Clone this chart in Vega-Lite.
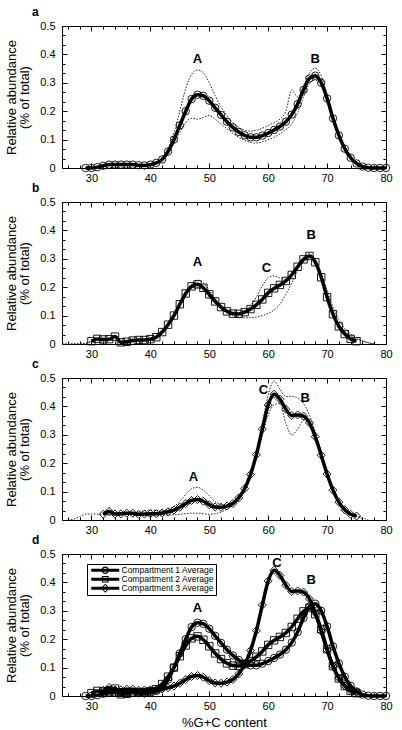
{
"$schema": "https://vega.github.io/schema/vega-lite/v6.json",
"background": "white",
"padding": {"left": 5, "top": 5, "right": 5, "bottom": 5},
"config": {
  "font": "Liberation Sans",
  "view": {"stroke": "black", "strokeWidth": 1},
  "axis": {"grid": false, "domain": false, "tickColor": "black", "labelColor": "black", "labelFontSize": 11, "titleFontSize": 13, "titleFontWeight": "normal", "titleColor": "black", "labelFont": "Liberation Sans", "titleFont": "Liberation Sans"}
},
"resolve": {"scale": {"shape": "independent"}, "legend": {"shape": "independent"}},
"datasets": {
"d": [
{"s":"1","x":29,"y":0},{"s":"1","x":30,"y":0},{"s":"1","x":31,"y":0.003},{"s":"1","x":32,"y":0.008},{"s":"1","x":33,"y":0.012},{"s":"1","x":34,"y":0.012},{"s":"1","x":35,"y":0.012},{"s":"1","x":36,"y":0.012},{"s":"1","x":37,"y":0.012},{"s":"1","x":38,"y":0.01},{"s":"1","x":39,"y":0.009},{"s":"1","x":40,"y":0.012},{"s":"1","x":41,"y":0.018},{"s":"1","x":42,"y":0.03},{"s":"1","x":43,"y":0.058},{"s":"1","x":44,"y":0.1},{"s":"1","x":45,"y":0.15},{"s":"1","x":46,"y":0.2},{"s":"1","x":47,"y":0.243},{"s":"1","x":48,"y":0.258},{"s":"1","x":49,"y":0.254},{"s":"1","x":50,"y":0.237},{"s":"1","x":51,"y":0.212},{"s":"1","x":52,"y":0.187},{"s":"1","x":53,"y":0.163},{"s":"1","x":54,"y":0.143},{"s":"1","x":55,"y":0.127},{"s":"1","x":56,"y":0.115},{"s":"1","x":57,"y":0.108},{"s":"1","x":58,"y":0.108},{"s":"1","x":59,"y":0.114},{"s":"1","x":60,"y":0.123},{"s":"1","x":61,"y":0.134},{"s":"1","x":62,"y":0.146},{"s":"1","x":63,"y":0.163},{"s":"1","x":64,"y":0.188},{"s":"1","x":65,"y":0.225},{"s":"1","x":66,"y":0.275},{"s":"1","x":67,"y":0.315},{"s":"1","x":68,"y":0.325},{"s":"1","x":69,"y":0.3},{"s":"1","x":70,"y":0.245},{"s":"1","x":71,"y":0.175},{"s":"1","x":72,"y":0.115},{"s":"1","x":73,"y":0.068},{"s":"1","x":74,"y":0.036},{"s":"1","x":75,"y":0.016},{"s":"1","x":76,"y":0.005},{"s":"1","x":77,"y":0.001},{"s":"1","x":78,"y":0},{"s":"1","x":79,"y":0},{"s":"1","x":80,"y":0},
{"s":"1a","x":29,"y":0},{"s":"1a","x":31,"y":0.003},{"s":"1a","x":33,"y":0.012},{"s":"1a","x":35,"y":0.013},{"s":"1a","x":37,"y":0.013},{"s":"1a","x":39,"y":0.01},{"s":"1a","x":41,"y":0.02},{"s":"1a","x":42,"y":0.035},{"s":"1a","x":43,"y":0.07},{"s":"1a","x":44,"y":0.125},{"s":"1a","x":45,"y":0.2},{"s":"1a","x":46,"y":0.28},{"s":"1a","x":47,"y":0.33},{"s":"1a","x":48,"y":0.345},{"s":"1a","x":49,"y":0.335},{"s":"1a","x":50,"y":0.3},{"s":"1a","x":51,"y":0.255},{"s":"1a","x":52,"y":0.215},{"s":"1a","x":53,"y":0.185},{"s":"1a","x":54,"y":0.16},{"s":"1a","x":55,"y":0.143},{"s":"1a","x":56,"y":0.133},{"s":"1a","x":57,"y":0.13},{"s":"1a","x":58,"y":0.133},{"s":"1a","x":59,"y":0.14},{"s":"1a","x":60,"y":0.15},{"s":"1a","x":61,"y":0.16},{"s":"1a","x":62,"y":0.172},{"s":"1a","x":63,"y":0.2},{"s":"1a","x":64,"y":0.275},{"s":"1a","x":65,"y":0.25},{"s":"1a","x":66,"y":0.29},{"s":"1a","x":67,"y":0.335},{"s":"1a","x":68,"y":0.352},{"s":"1a","x":69,"y":0.325},{"s":"1a","x":70,"y":0.26},{"s":"1a","x":71,"y":0.185},{"s":"1a","x":72,"y":0.12},{"s":"1a","x":73,"y":0.07},{"s":"1a","x":74,"y":0.037},{"s":"1a","x":75,"y":0.016},{"s":"1a","x":76,"y":0.005},{"s":"1a","x":78,"y":0},{"s":"1a","x":80,"y":0},
{"s":"1b","x":29,"y":0},{"s":"1b","x":31,"y":0.002},{"s":"1b","x":33,"y":0.01},{"s":"1b","x":35,"y":0.011},{"s":"1b","x":37,"y":0.011},{"s":"1b","x":39,"y":0.008},{"s":"1b","x":41,"y":0.016},{"s":"1b","x":42,"y":0.026},{"s":"1b","x":43,"y":0.05},{"s":"1b","x":44,"y":0.085},{"s":"1b","x":45,"y":0.125},{"s":"1b","x":46,"y":0.16},{"s":"1b","x":47,"y":0.175},{"s":"1b","x":48,"y":0.172},{"s":"1b","x":49,"y":0.178},{"s":"1b","x":50,"y":0.185},{"s":"1b","x":51,"y":0.172},{"s":"1b","x":52,"y":0.155},{"s":"1b","x":53,"y":0.138},{"s":"1b","x":54,"y":0.122},{"s":"1b","x":55,"y":0.108},{"s":"1b","x":56,"y":0.098},{"s":"1b","x":57,"y":0.09},{"s":"1b","x":58,"y":0.088},{"s":"1b","x":59,"y":0.092},{"s":"1b","x":60,"y":0.1},{"s":"1b","x":61,"y":0.108},{"s":"1b","x":62,"y":0.12},{"s":"1b","x":63,"y":0.135},{"s":"1b","x":64,"y":0.155},{"s":"1b","x":65,"y":0.195},{"s":"1b","x":66,"y":0.25},{"s":"1b","x":67,"y":0.298},{"s":"1b","x":68,"y":0.31},{"s":"1b","x":69,"y":0.29},{"s":"1b","x":70,"y":0.24},{"s":"1b","x":71,"y":0.17},{"s":"1b","x":72,"y":0.11},{"s":"1b","x":73,"y":0.065},{"s":"1b","x":74,"y":0.034},{"s":"1b","x":75,"y":0.015},{"s":"1b","x":76,"y":0.005},{"s":"1b","x":78,"y":0},{"s":"1b","x":80,"y":0},
{"s":"2","x":30,"y":0.01},{"s":"2","x":31,"y":0.018},{"s":"2","x":32,"y":0.016},{"s":"2","x":33,"y":0.017},{"s":"2","x":34,"y":0.026},{"s":"2","x":35,"y":0.006},{"s":"2","x":36,"y":0.008},{"s":"2","x":37,"y":0.012},{"s":"2","x":38,"y":0.014},{"s":"2","x":39,"y":0.014},{"s":"2","x":40,"y":0.017},{"s":"2","x":41,"y":0.024},{"s":"2","x":42,"y":0.042},{"s":"2","x":43,"y":0.068},{"s":"2","x":44,"y":0.1},{"s":"2","x":45,"y":0.14},{"s":"2","x":46,"y":0.178},{"s":"2","x":47,"y":0.203},{"s":"2","x":48,"y":0.21},{"s":"2","x":49,"y":0.198},{"s":"2","x":50,"y":0.175},{"s":"2","x":51,"y":0.15},{"s":"2","x":52,"y":0.13},{"s":"2","x":53,"y":0.115},{"s":"2","x":54,"y":0.107},{"s":"2","x":55,"y":0.106},{"s":"2","x":56,"y":0.112},{"s":"2","x":57,"y":0.123},{"s":"2","x":58,"y":0.138},{"s":"2","x":59,"y":0.157},{"s":"2","x":60,"y":0.18},{"s":"2","x":61,"y":0.196},{"s":"2","x":62,"y":0.208},{"s":"2","x":63,"y":0.222},{"s":"2","x":64,"y":0.243},{"s":"2","x":65,"y":0.272},{"s":"2","x":66,"y":0.298},{"s":"2","x":67,"y":0.31},{"s":"2","x":68,"y":0.288},{"s":"2","x":69,"y":0.235},{"s":"2","x":70,"y":0.165},{"s":"2","x":71,"y":0.105},{"s":"2","x":72,"y":0.062},{"s":"2","x":73,"y":0.035},{"s":"2","x":74,"y":0.018},{"s":"2","x":75,"y":0.01},
{"s":"2a","x":25,"y":0},{"s":"2a","x":27,"y":0},{"s":"2a","x":29,"y":0.003},{"s":"2a","x":30,"y":0.01},{"s":"2a","x":31,"y":0.018},{"s":"2a","x":33,"y":0.017},{"s":"2a","x":34,"y":0.028},{"s":"2a","x":35,"y":0.007},{"s":"2a","x":37,"y":0.012},{"s":"2a","x":39,"y":0.014},{"s":"2a","x":41,"y":0.024},{"s":"2a","x":42,"y":0.04},{"s":"2a","x":43,"y":0.065},{"s":"2a","x":44,"y":0.095},{"s":"2a","x":45,"y":0.135},{"s":"2a","x":46,"y":0.175},{"s":"2a","x":47,"y":0.21},{"s":"2a","x":48,"y":0.225},{"s":"2a","x":49,"y":0.215},{"s":"2a","x":50,"y":0.19},{"s":"2a","x":51,"y":0.16},{"s":"2a","x":52,"y":0.135},{"s":"2a","x":53,"y":0.118},{"s":"2a","x":54,"y":0.108},{"s":"2a","x":55,"y":0.106},{"s":"2a","x":56,"y":0.115},{"s":"2a","x":57,"y":0.135},{"s":"2a","x":58,"y":0.165},{"s":"2a","x":59,"y":0.205},{"s":"2a","x":60,"y":0.233},{"s":"2a","x":61,"y":0.24},{"s":"2a","x":62,"y":0.232},{"s":"2a","x":63,"y":0.225},{"s":"2a","x":64,"y":0.24},{"s":"2a","x":65,"y":0.268},{"s":"2a","x":66,"y":0.29},{"s":"2a","x":67,"y":0.3},{"s":"2a","x":68,"y":0.29},{"s":"2a","x":69,"y":0.25},{"s":"2a","x":70,"y":0.19},{"s":"2a","x":71,"y":0.13},{"s":"2a","x":72,"y":0.085},{"s":"2a","x":73,"y":0.055},{"s":"2a","x":74,"y":0.035},{"s":"2a","x":75,"y":0.022},{"s":"2a","x":76,"y":0.012},{"s":"2a","x":77,"y":0.005},{"s":"2a","x":78,"y":0},
{"s":"2b","x":25,"y":0},{"s":"2b","x":27,"y":0},{"s":"2b","x":29,"y":0.002},{"s":"2b","x":30,"y":0.01},{"s":"2b","x":31,"y":0.018},{"s":"2b","x":33,"y":0.017},{"s":"2b","x":34,"y":0.024},{"s":"2b","x":35,"y":0.006},{"s":"2b","x":37,"y":0.012},{"s":"2b","x":39,"y":0.014},{"s":"2b","x":41,"y":0.024},{"s":"2b","x":42,"y":0.042},{"s":"2b","x":43,"y":0.07},{"s":"2b","x":44,"y":0.105},{"s":"2b","x":45,"y":0.145},{"s":"2b","x":46,"y":0.18},{"s":"2b","x":47,"y":0.198},{"s":"2b","x":48,"y":0.2},{"s":"2b","x":49,"y":0.188},{"s":"2b","x":50,"y":0.165},{"s":"2b","x":51,"y":0.143},{"s":"2b","x":52,"y":0.124},{"s":"2b","x":53,"y":0.11},{"s":"2b","x":54,"y":0.1},{"s":"2b","x":55,"y":0.095},{"s":"2b","x":56,"y":0.092},{"s":"2b","x":57,"y":0.093},{"s":"2b","x":58,"y":0.095},{"s":"2b","x":59,"y":0.1},{"s":"2b","x":60,"y":0.108},{"s":"2b","x":61,"y":0.12},{"s":"2b","x":62,"y":0.14},{"s":"2b","x":63,"y":0.175},{"s":"2b","x":64,"y":0.215},{"s":"2b","x":65,"y":0.26},{"s":"2b","x":66,"y":0.3},{"s":"2b","x":67,"y":0.318},{"s":"2b","x":68,"y":0.295},{"s":"2b","x":69,"y":0.24},{"s":"2b","x":70,"y":0.17},{"s":"2b","x":71,"y":0.11},{"s":"2b","x":72,"y":0.07},{"s":"2b","x":73,"y":0.045},{"s":"2b","x":74,"y":0.028},{"s":"2b","x":75,"y":0.018},{"s":"2b","x":76,"y":0.01},{"s":"2b","x":77,"y":0.004},{"s":"2b","x":78,"y":0},
{"s":"3","x":32,"y":0.02},{"s":"3","x":33,"y":0.03},{"s":"3","x":34,"y":0.021},{"s":"3","x":35,"y":0.022},{"s":"3","x":36,"y":0.024},{"s":"3","x":37,"y":0.024},{"s":"3","x":38,"y":0.02},{"s":"3","x":39,"y":0.021},{"s":"3","x":40,"y":0.022},{"s":"3","x":41,"y":0.022},{"s":"3","x":42,"y":0.025},{"s":"3","x":43,"y":0.029},{"s":"3","x":44,"y":0.035},{"s":"3","x":45,"y":0.045},{"s":"3","x":46,"y":0.058},{"s":"3","x":47,"y":0.069},{"s":"3","x":48,"y":0.072},{"s":"3","x":49,"y":0.066},{"s":"3","x":50,"y":0.054},{"s":"3","x":51,"y":0.046},{"s":"3","x":52,"y":0.045},{"s":"3","x":53,"y":0.049},{"s":"3","x":54,"y":0.058},{"s":"3","x":55,"y":0.078},{"s":"3","x":56,"y":0.11},{"s":"3","x":57,"y":0.16},{"s":"3","x":58,"y":0.23},{"s":"3","x":59,"y":0.32},{"s":"3","x":60,"y":0.405},{"s":"3","x":61,"y":0.443},{"s":"3","x":62,"y":0.425},{"s":"3","x":63,"y":0.39},{"s":"3","x":64,"y":0.368},{"s":"3","x":65,"y":0.37},{"s":"3","x":66,"y":0.366},{"s":"3","x":67,"y":0.342},{"s":"3","x":68,"y":0.293},{"s":"3","x":69,"y":0.228},{"s":"3","x":70,"y":0.162},{"s":"3","x":71,"y":0.105},{"s":"3","x":72,"y":0.063},{"s":"3","x":73,"y":0.036},{"s":"3","x":74,"y":0.02},{"s":"3","x":75,"y":0.014},
{"s":"3a","x":26,"y":0},{"s":"3a","x":27,"y":0.003},{"s":"3a","x":28,"y":0.012},{"s":"3a","x":29,"y":0.02},{"s":"3a","x":30,"y":0.021},{"s":"3a","x":31,"y":0.02},{"s":"3a","x":32,"y":0.02},{"s":"3a","x":33,"y":0.025},{"s":"3a","x":35,"y":0.024},{"s":"3a","x":37,"y":0.025},{"s":"3a","x":38,"y":0.028},{"s":"3a","x":39,"y":0.033},{"s":"3a","x":40,"y":0.035},{"s":"3a","x":41,"y":0.034},{"s":"3a","x":42,"y":0.033},{"s":"3a","x":43,"y":0.038},{"s":"3a","x":44,"y":0.048},{"s":"3a","x":45,"y":0.065},{"s":"3a","x":46,"y":0.09},{"s":"3a","x":47,"y":0.11},{"s":"3a","x":48,"y":0.115},{"s":"3a","x":49,"y":0.105},{"s":"3a","x":50,"y":0.085},{"s":"3a","x":51,"y":0.065},{"s":"3a","x":52,"y":0.055},{"s":"3a","x":53,"y":0.052},{"s":"3a","x":54,"y":0.058},{"s":"3a","x":55,"y":0.078},{"s":"3a","x":56,"y":0.11},{"s":"3a","x":57,"y":0.165},{"s":"3a","x":58,"y":0.24},{"s":"3a","x":59,"y":0.34},{"s":"3a","x":60,"y":0.44},{"s":"3a","x":61,"y":0.49},{"s":"3a","x":62,"y":0.46},{"s":"3a","x":63,"y":0.435},{"s":"3a","x":64,"y":0.435},{"s":"3a","x":65,"y":0.43},{"s":"3a","x":66,"y":0.41},{"s":"3a","x":67,"y":0.37},{"s":"3a","x":68,"y":0.31},{"s":"3a","x":69,"y":0.24},{"s":"3a","x":70,"y":0.17},{"s":"3a","x":71,"y":0.11},{"s":"3a","x":72,"y":0.065},{"s":"3a","x":73,"y":0.038},{"s":"3a","x":74,"y":0.022},{"s":"3a","x":75,"y":0.015},{"s":"3a","x":76,"y":0.008},{"s":"3a","x":77,"y":0},
{"s":"3b","x":32,"y":0.018},{"s":"3b","x":34,"y":0.018},{"s":"3b","x":36,"y":0.02},{"s":"3b","x":38,"y":0.015},{"s":"3b","x":40,"y":0.018},{"s":"3b","x":42,"y":0.018},{"s":"3b","x":44,"y":0.018},{"s":"3b","x":45,"y":0.02},{"s":"3b","x":46,"y":0.022},{"s":"3b","x":47,"y":0.024},{"s":"3b","x":48,"y":0.024},{"s":"3b","x":49,"y":0.022},{"s":"3b","x":50,"y":0.02},{"s":"3b","x":51,"y":0.022},{"s":"3b","x":52,"y":0.028},{"s":"3b","x":53,"y":0.038},{"s":"3b","x":54,"y":0.052},{"s":"3b","x":55,"y":0.075},{"s":"3b","x":56,"y":0.11},{"s":"3b","x":57,"y":0.16},{"s":"3b","x":58,"y":0.225},{"s":"3b","x":59,"y":0.3},{"s":"3b","x":60,"y":0.37},{"s":"3b","x":61,"y":0.405},{"s":"3b","x":62,"y":0.41},{"s":"3b","x":63,"y":0.34},{"s":"3b","x":64,"y":0.3},{"s":"3b","x":65,"y":0.32},{"s":"3b","x":66,"y":0.35},{"s":"3b","x":67,"y":0.34},{"s":"3b","x":68,"y":0.3},{"s":"3b","x":69,"y":0.23},{"s":"3b","x":70,"y":0.16},{"s":"3b","x":71,"y":0.1},{"s":"3b","x":72,"y":0.06},{"s":"3b","x":73,"y":0.034},{"s":"3b","x":74,"y":0.02},{"s":"3b","x":75,"y":0.012},{"s":"3b","x":76,"y":0.005}
],
"lab": [
{"p":"a","t":"A","x":48,"y":0.385},{"p":"a","t":"B","x":68,"y":0.385},
{"p":"b","t":"A","x":48,"y":0.29},{"p":"b","t":"C","x":59.7,"y":0.268},{"p":"b","t":"B","x":67.3,"y":0.385},
{"p":"c","t":"C","x":59.2,"y":0.458},{"p":"c","t":"B","x":66.3,"y":0.43},{"p":"c","t":"A","x":47.3,"y":0.152},
{"p":"d","t":"A","x":48,"y":0.31},{"p":"d","t":"C","x":61.5,"y":0.47},{"p":"d","t":"B","x":67.3,"y":0.41}
]
},
"spacing": 34,
"bounds": "flush",
"vconcat": [
{
 "width": 324, "height": 142,
 "title": {"text": "a", "anchor": "start", "frame": "group", "dx": -30, "offset": 1, "fontSize": 12, "fontWeight": "bold"},
 "layer": [
  {"data": {"name": "d"}, "transform": [{"filter": "datum.s == '1a' || datum.s == '1b'"}],
   "mark": {"type": "line", "strokeDash": [1.5, 1.5], "strokeWidth": 1, "color": "#222", "interpolate": "monotone"},
   "encoding": {
    "x": {"field": "x", "type": "quantitative", "scale": {"domain": [25, 80]}, "axis": {"orient": "bottom", "values": [30,40,50,60,70,80], "tickSize": -5, "labelPadding": 9, "labelFlush": false, "title": null}},
    "y": {"field": "y", "type": "quantitative", "scale": {"domain": [0, 0.5]}, "axis": {"orient": "left", "values": [0,0.1,0.2,0.3,0.4,0.5], "format": "~g", "tickSize": -5, "labelPadding": 12, "labelFlush": false, "title": ["Relative abundance", "(% of total)"], "titleFontWeight": "normal", "titlePadding": 8, "titleLineHeight": 13}},
    "detail": {"field": "s"}}},
  {"data": {"name": "d"}, "transform": [{"filter": "datum.s == '1'"}],
   "mark": {"type": "point", "shape": "circle", "filled": false, "size": 55, "stroke": "black", "strokeWidth": 0.9, "opacity": 1},
   "encoding": {
    "x": {"field": "x", "type": "quantitative", "scale": {"domain": [25, 80]}, "axis": {"orient": "bottom", "values": [26,28,32,34,36,38,42,44,46,48,52,54,56,58,62,64,66,68,72,74,76,78], "tickSize": -3, "labels": false, "title": null}},
    "y": {"field": "y", "type": "quantitative", "scale": {"domain": [0, 0.5]}, "axis": {"orient": "left", "values": [0.0333,0.0667,0.1333,0.1667,0.2333,0.2667,0.3333,0.3667,0.4333,0.4667], "tickSize": -3, "labels": false, "title": null}}}},
  {"data": {"name": "d"}, "transform": [{"filter": "datum.s == '1'"}],
   "mark": {"type": "line", "color": "black", "strokeWidth": 3.5, "interpolate": "monotone"},
   "encoding": {
    "x": {"field": "x", "type": "quantitative", "scale": {"domain": [25, 80]}, "axis": {"orient": "top", "values": [30,40,50,60,70,80], "tickSize": -5, "labels": false, "title": null}},
    "y": {"field": "y", "type": "quantitative", "scale": {"domain": [0, 0.5]}, "axis": {"orient": "right", "values": [0,0.1,0.2,0.3,0.4,0.5], "tickSize": -5, "labels": false, "title": null}}}},
  {"data": {"name": "lab"}, "transform": [{"filter": "datum.p == 'a'"}],
   "mark": {"type": "text", "fontSize": 13, "fontWeight": "bold", "color": "black"},
   "encoding": {
    "text": {"field": "t"},
    "x": {"field": "x", "type": "quantitative", "scale": {"domain": [25, 80]}, "axis": {"orient": "top", "values": [26,28,32,34,36,38,42,44,46,48,52,54,56,58,62,64,66,68,72,74,76,78], "tickSize": -3, "labels": false, "title": null}},
    "y": {"field": "y", "type": "quantitative", "scale": {"domain": [0, 0.5]}, "axis": {"orient": "right", "values": [0.0333,0.0667,0.1333,0.1667,0.2333,0.2667,0.3333,0.3667,0.4333,0.4667], "tickSize": -3, "labels": false, "title": null}}}}
 ],
 "resolve": {"axis": {"x": "independent", "y": "independent"}}
},
{
 "width": 324, "height": 142,
 "title": {"text": "b", "anchor": "start", "frame": "group", "dx": -30, "offset": 1, "fontSize": 12, "fontWeight": "bold"},
 "layer": [
  {"data": {"name": "d"}, "transform": [{"filter": "datum.s == '2a' || datum.s == '2b'"}],
   "mark": {"type": "line", "strokeDash": [1.5, 1.5], "strokeWidth": 1, "color": "#222", "interpolate": "monotone"},
   "encoding": {
    "x": {"field": "x", "type": "quantitative", "scale": {"domain": [25, 80]}, "axis": {"orient": "bottom", "values": [30,40,50,60,70,80], "tickSize": -5, "labelPadding": 9, "labelFlush": false, "title": null}},
    "y": {"field": "y", "type": "quantitative", "scale": {"domain": [0, 0.5]}, "axis": {"orient": "left", "values": [0,0.1,0.2,0.3,0.4,0.5], "format": "~g", "tickSize": -5, "labelPadding": 12, "labelFlush": false, "title": ["Relative abundance", "(% of total)"], "titleFontWeight": "normal", "titlePadding": 8, "titleLineHeight": 13}},
    "detail": {"field": "s"}}},
  {"data": {"name": "d"}, "transform": [{"filter": "datum.s == '2'"}],
   "mark": {"type": "point", "shape": "square", "filled": false, "size": 55, "stroke": "black", "strokeWidth": 0.9, "opacity": 1},
   "encoding": {
    "x": {"field": "x", "type": "quantitative", "scale": {"domain": [25, 80]}, "axis": {"orient": "bottom", "values": [26,28,32,34,36,38,42,44,46,48,52,54,56,58,62,64,66,68,72,74,76,78], "tickSize": -3, "labels": false, "title": null}},
    "y": {"field": "y", "type": "quantitative", "scale": {"domain": [0, 0.5]}, "axis": {"orient": "left", "values": [0.0333,0.0667,0.1333,0.1667,0.2333,0.2667,0.3333,0.3667,0.4333,0.4667], "tickSize": -3, "labels": false, "title": null}}}},
  {"data": {"name": "d"}, "transform": [{"filter": "datum.s == '2'"}],
   "mark": {"type": "line", "color": "black", "strokeWidth": 3.5, "interpolate": "monotone"},
   "encoding": {
    "x": {"field": "x", "type": "quantitative", "scale": {"domain": [25, 80]}, "axis": {"orient": "top", "values": [30,40,50,60,70,80], "tickSize": -5, "labels": false, "title": null}},
    "y": {"field": "y", "type": "quantitative", "scale": {"domain": [0, 0.5]}, "axis": {"orient": "right", "values": [0,0.1,0.2,0.3,0.4,0.5], "tickSize": -5, "labels": false, "title": null}}}},
  {"data": {"name": "lab"}, "transform": [{"filter": "datum.p == 'b'"}],
   "mark": {"type": "text", "fontSize": 13, "fontWeight": "bold", "color": "black"},
   "encoding": {
    "text": {"field": "t"},
    "x": {"field": "x", "type": "quantitative", "scale": {"domain": [25, 80]}, "axis": {"orient": "top", "values": [26,28,32,34,36,38,42,44,46,48,52,54,56,58,62,64,66,68,72,74,76,78], "tickSize": -3, "labels": false, "title": null}},
    "y": {"field": "y", "type": "quantitative", "scale": {"domain": [0, 0.5]}, "axis": {"orient": "right", "values": [0.0333,0.0667,0.1333,0.1667,0.2333,0.2667,0.3333,0.3667,0.4333,0.4667], "tickSize": -3, "labels": false, "title": null}}}}
 ],
 "resolve": {"axis": {"x": "independent", "y": "independent"}}
},
{
 "width": 324, "height": 142,
 "title": {"text": "c", "anchor": "start", "frame": "group", "dx": -30, "offset": 1, "fontSize": 12, "fontWeight": "bold"},
 "layer": [
  {"data": {"name": "d"}, "transform": [{"filter": "datum.s == '3a' || datum.s == '3b'"}],
   "mark": {"type": "line", "strokeDash": [1.5, 1.5], "strokeWidth": 1, "color": "#222", "interpolate": "monotone"},
   "encoding": {
    "x": {"field": "x", "type": "quantitative", "scale": {"domain": [25, 80]}, "axis": {"orient": "bottom", "values": [30,40,50,60,70,80], "tickSize": -5, "labelPadding": 9, "labelFlush": false, "title": null}},
    "y": {"field": "y", "type": "quantitative", "scale": {"domain": [0, 0.5]}, "axis": {"orient": "left", "values": [0,0.1,0.2,0.3,0.4,0.5], "format": "~g", "tickSize": -5, "labelPadding": 12, "labelFlush": false, "title": ["Relative abundance", "(% of total)"], "titleFontWeight": "normal", "titlePadding": 8, "titleLineHeight": 13}},
    "detail": {"field": "s"}}},
  {"data": {"name": "d"}, "transform": [{"filter": "datum.s == '3'"}],
   "mark": {"type": "point", "shape": "diamond", "filled": false, "size": 65, "stroke": "black", "strokeWidth": 0.9, "opacity": 1},
   "encoding": {
    "x": {"field": "x", "type": "quantitative", "scale": {"domain": [25, 80]}, "axis": {"orient": "bottom", "values": [26,28,32,34,36,38,42,44,46,48,52,54,56,58,62,64,66,68,72,74,76,78], "tickSize": -3, "labels": false, "title": null}},
    "y": {"field": "y", "type": "quantitative", "scale": {"domain": [0, 0.5]}, "axis": {"orient": "left", "values": [0.0333,0.0667,0.1333,0.1667,0.2333,0.2667,0.3333,0.3667,0.4333,0.4667], "tickSize": -3, "labels": false, "title": null}}}},
  {"data": {"name": "d"}, "transform": [{"filter": "datum.s == '3'"}],
   "mark": {"type": "line", "color": "black", "strokeWidth": 3.5, "interpolate": "monotone"},
   "encoding": {
    "x": {"field": "x", "type": "quantitative", "scale": {"domain": [25, 80]}, "axis": {"orient": "top", "values": [30,40,50,60,70,80], "tickSize": -5, "labels": false, "title": null}},
    "y": {"field": "y", "type": "quantitative", "scale": {"domain": [0, 0.5]}, "axis": {"orient": "right", "values": [0,0.1,0.2,0.3,0.4,0.5], "tickSize": -5, "labels": false, "title": null}}}},
  {"data": {"name": "lab"}, "transform": [{"filter": "datum.p == 'c'"}],
   "mark": {"type": "text", "fontSize": 13, "fontWeight": "bold", "color": "black"},
   "encoding": {
    "text": {"field": "t"},
    "x": {"field": "x", "type": "quantitative", "scale": {"domain": [25, 80]}, "axis": {"orient": "top", "values": [26,28,32,34,36,38,42,44,46,48,52,54,56,58,62,64,66,68,72,74,76,78], "tickSize": -3, "labels": false, "title": null}},
    "y": {"field": "y", "type": "quantitative", "scale": {"domain": [0, 0.5]}, "axis": {"orient": "right", "values": [0.0333,0.0667,0.1333,0.1667,0.2333,0.2667,0.3333,0.3667,0.4333,0.4667], "tickSize": -3, "labels": false, "title": null}}}}
 ],
 "resolve": {"axis": {"x": "independent", "y": "independent"}}
},
{
 "width": 324, "height": 142,
 "title": {"text": "d", "anchor": "start", "frame": "group", "dx": -30, "offset": 1, "fontSize": 12, "fontWeight": "bold"},
 "layer": [
  {"data": {"name": "d"}, "transform": [{"filter": "datum.s == '1'"}],
   "mark": {"type": "point", "shape": "circle", "filled": false, "size": 55, "stroke": "black", "strokeWidth": 0.9, "opacity": 1},
   "encoding": {
    "x": {"field": "x", "type": "quantitative", "scale": {"domain": [25, 80]}, "axis": {"orient": "bottom", "values": [30,40,50,60,70,80], "tickSize": -5, "labelPadding": 9, "labelFlush": false, "title": "%G+C content", "titleFontWeight": "normal", "titlePadding": 5}},
    "y": {"field": "y", "type": "quantitative", "scale": {"domain": [0, 0.5]}, "axis": {"orient": "left", "values": [0,0.1,0.2,0.3,0.4,0.5], "format": "~g", "tickSize": -5, "labelPadding": 12, "labelFlush": false, "title": ["Relative abundance", "(% of total)"], "titleFontWeight": "normal", "titlePadding": 8, "titleLineHeight": 13}}}},
  {"data": {"name": "d"}, "transform": [{"filter": "datum.s == '2'"}],
   "mark": {"type": "point", "shape": "square", "filled": false, "size": 55, "stroke": "black", "strokeWidth": 0.9, "opacity": 1},
   "encoding": {
    "x": {"field": "x", "type": "quantitative", "scale": {"domain": [25, 80]}, "axis": {"orient": "bottom", "values": [26,28,32,34,36,38,42,44,46,48,52,54,56,58,62,64,66,68,72,74,76,78], "tickSize": -3, "labels": false, "title": null}},
    "y": {"field": "y", "type": "quantitative", "scale": {"domain": [0, 0.5]}, "axis": {"orient": "left", "values": [0.0333,0.0667,0.1333,0.1667,0.2333,0.2667,0.3333,0.3667,0.4333,0.4667], "tickSize": -3, "labels": false, "title": null}}}},
  {"data": {"name": "d"}, "transform": [{"filter": "datum.s == '3'"}],
   "mark": {"type": "point", "shape": "diamond", "filled": false, "size": 65, "stroke": "black", "strokeWidth": 0.9, "opacity": 1},
   "encoding": {
    "x": {"field": "x", "type": "quantitative", "scale": {"domain": [25, 80]}, "axis": {"orient": "top", "values": [30,40,50,60,70,80], "tickSize": -5, "labels": false, "title": null}},
    "y": {"field": "y", "type": "quantitative", "scale": {"domain": [0, 0.5]}, "axis": {"orient": "right", "values": [0,0.1,0.2,0.3,0.4,0.5], "tickSize": -5, "labels": false, "title": null}}}},
  {"data": {"name": "d"}, "transform": [{"filter": "datum.s == '1' || datum.s == '2'"}],
   "mark": {"type": "line", "color": "black", "strokeWidth": 3.5, "interpolate": "monotone"},
   "encoding": {
    "detail": {"field": "s"},
    "x": {"field": "x", "type": "quantitative", "scale": {"domain": [25, 80]}, "axis": {"orient": "top", "values": [26,28,32,34,36,38,42,44,46,48,52,54,56,58,62,64,66,68,72,74,76,78], "tickSize": -3, "labels": false, "title": null}},
    "y": {"field": "y", "type": "quantitative", "scale": {"domain": [0, 0.5]}, "axis": {"orient": "right", "values": [0.0333,0.0667,0.1333,0.1667,0.2333,0.2667,0.3333,0.3667,0.4333,0.4667], "tickSize": -3, "labels": false, "title": null}}}},
  {"data": {"name": "d"}, "transform": [{"filter": "datum.s == '3'"}],
   "mark": {"type": "line", "color": "black", "strokeWidth": 3.5, "interpolate": "monotone"},
   "encoding": {
    "x": {"field": "x", "type": "quantitative", "scale": {"domain": [25, 80]}, "axis": null},
    "y": {"field": "y", "type": "quantitative", "scale": {"domain": [0, 0.5]}, "axis": null}}},
  {"data": {"name": "d"}, "transform": [{"filter": "datum.s == 'none'"}],
   "mark": {"type": "point", "filled": true, "color": "black", "size": 49, "strokeWidth": 0, "opacity": 1},
   "encoding": {
    "x": {"field": "x", "type": "quantitative", "scale": {"domain": [25, 80]}, "axis": null},
    "y": {"field": "y", "type": "quantitative", "scale": {"domain": [0, 0.5]}, "axis": null},
    "shape": {"field": "s", "type": "nominal",
      "scale": {"domain": ["1","2","3"], "range": [
        "M-4,-0.4H4V0.4H-4Z M1.05,0A1.05,1.05 0 1,1 -1.05,0A1.05,1.05 0 1,1 1.05,0Z M0.72,0A0.72,0.72 0 1,0 -0.72,0A0.72,0.72 0 1,0 0.72,0Z",
        "M-4,-0.4H4V0.4H-4Z M-0.95,-0.95H0.95V0.95H-0.95Z M-0.65,-0.65V0.65H0.65V-0.65Z",
        "M-4,-0.4H4V0.4H-4Z M0,-1.3L1.3,0L0,1.3L-1.3,0Z M0,-0.9L-0.9,0L0,0.9L0.9,0Z"]},
      "legend": {"orient": "none", "legendX": 25, "legendY": 10, "title": null, "labelExpr": "'Compartment ' + datum.label + ' Average'", "labelFontSize": 8.5, "labelColor": "black", "labelFont": "Liberation Sans", "strokeColor": "black", "fillColor": "white", "padding": 2, "rowPadding": -4, "symbolSize": 49, "symbolStrokeWidth": 0, "symbolFillColor": "black", "symbolOffset": 12, "labelOffset": 12}}}},
  {"data": {"name": "lab"}, "transform": [{"filter": "datum.p == 'd'"}],
   "mark": {"type": "text", "fontSize": 13, "fontWeight": "bold", "color": "black"},
   "encoding": {
    "text": {"field": "t"},
    "x": {"field": "x", "type": "quantitative", "scale": {"domain": [25, 80]}, "axis": null},
    "y": {"field": "y", "type": "quantitative", "scale": {"domain": [0, 0.5]}, "axis": null}}}
 ],
 "resolve": {"axis": {"x": "independent", "y": "independent"}}
}
]
}
